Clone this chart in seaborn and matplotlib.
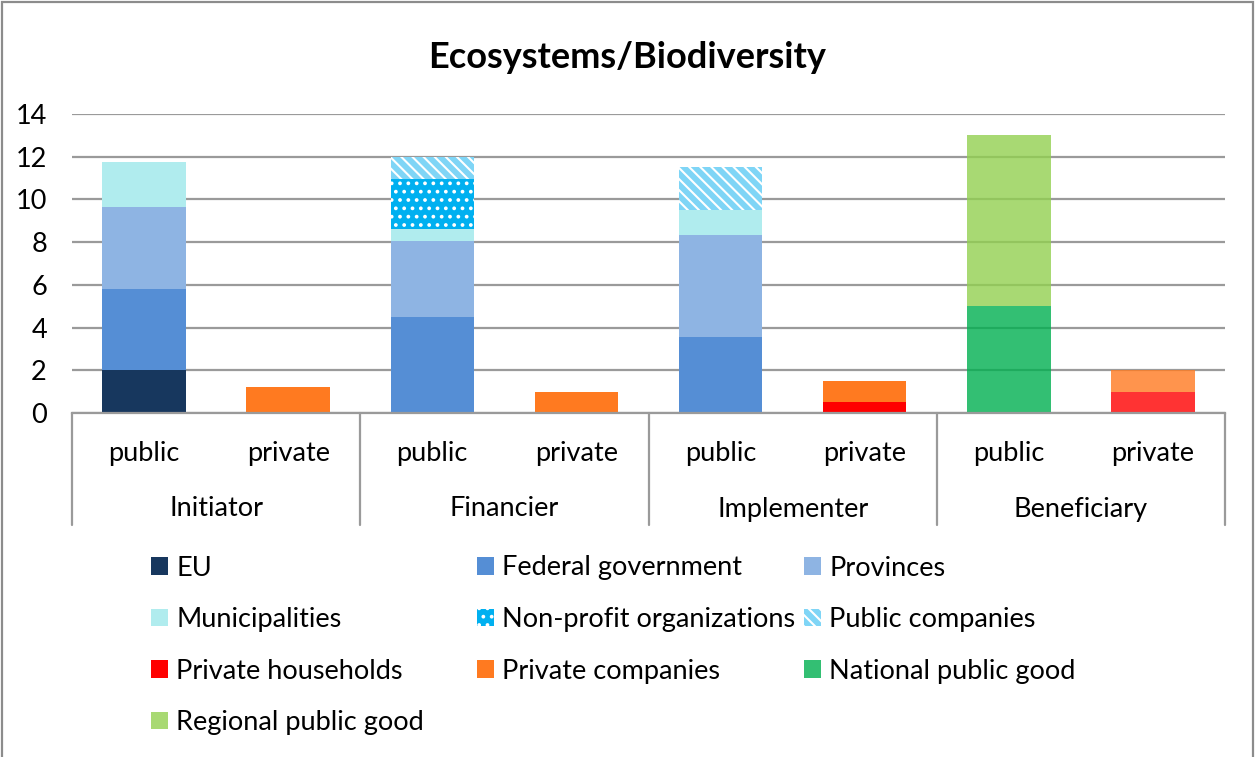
import matplotlib
matplotlib.use("Agg")
import matplotlib.pyplot as plt
import matplotlib.transforms as mtransforms
from matplotlib.patches import Patch, Rectangle
import pandas as pd
import seaborn as sns

# ---- data -------------------------------------------------------------
roles = ["Initiator", "Financier", "Implementer", "Beneficiary"]
sectors = ["public", "private"]

eu         = [2.0, 0, 0, 0, 0, 0, 0, 0]
federal    = [3.8, 0, 4.5, 0, 3.55, 0, 0, 0]
provinces  = [3.85, 0, 3.55, 0, 4.8, 0, 0, 0]
municipal  = [2.1, 0, 0.55, 0, 1.15, 0, 0, 0]
nonprofit  = [0, 0, 2.35, 0, 0, 0, 0, 0]
public_co  = [0, 0, 1.05, 0, 2.0, 0, 0, 0]
households = [0, 0, 0, 0, 0, 0.5, 0, 1.0]
private_co = [0, 1.22, 0, 1.0, 0, 1.0, 0, 1.0]
national   = [0, 0, 0, 0, 0, 0, 5.0, 0]
regional   = [0, 0, 0, 0, 0, 0, 8.0, 0]

series_names = ["EU", "Federal government", "Provinces", "Municipalities",
                "Non-profit organizations", "Public companies",
                "Private households", "Private companies",
                "National public good", "Regional public good"]
series_values = [eu, federal, provinces, municipal, nonprofit, public_co,
                 households, private_co, national, regional]

# ---- style ------------------------------------------------------------
colors = {
    "EU": "#17375e",
    "Federal government": "#558ed5",
    "Provinces": "#8eb4e3",
    "Municipalities": "#b0ecee",
    "Non-profit organizations": "#00b0f0",
    "Public companies": "#7fd5f6",
    "Private households": "#ff0000",
    "Private companies": "#ff7a20",
    "National public good": "#00b050",
    "Regional public good": "#92d050",
}
hatches = {"Non-profit organizations": "..", "Public companies": "\\\\\\"}

sns.set_theme(style="white")
plt.rcParams["font.family"] = ["Lato", "DejaVu Sans"]
plt.rcParams["text.color"] = "black"
plt.rcParams["hatch.linewidth"] = 1.5

FS = 19.5
W, H = 1255, 757
fig = plt.figure(figsize=(W / 100, H / 100), dpi=100)
x0, x1, y_top, y_bot = 72, 1225, 114, 413
ax = fig.add_axes([x0 / W, 1 - y_bot / H, (x1 - x0) / W, (y_bot - y_top) / H])

slots = [f"{r}-{s}" for r in roles for s in sectors]
faded_slots = {6, 7}  # beneficiary bars are drawn semi-transparent

bottom = [0.0] * len(slots)
for name, vals in zip(series_names, series_values):
    df = pd.DataFrame({"slot": slots, "value": vals})
    n_before = len(ax.patches)
    sns.barplot(data=df, x="slot", y="value", order=slots, color=colors[name],
                saturation=1, width=0.58, errorbar=None, bottom=bottom,
                linewidth=0, ax=ax)
    new = ax.patches[n_before:]
    for i, p in enumerate(new):
        if name in hatches:
            p.set_hatch(hatches[name])
            p.set_edgecolor("white")
            p.set_linewidth(0)
        if i in faded_slots:
            p.set_alpha(0.8)
    bottom = [b + v for b, v in zip(bottom, vals)]

# ---- axes -------------------------------------------------------------
ax.set_xlim(-0.5, len(slots) - 0.5)
ax.set_ylim(0, 14)
ax.set_yticks(range(0, 15, 2))
ax.yaxis.grid(True, color="#9a9a9a", linewidth=1.6)
ax.set_axisbelow(True)
for side in ["left", "right", "top"]:
    ax.spines[side].set_visible(False)
ax.spines["bottom"].set_color("#9a9a9a")
ax.spines["bottom"].set_linewidth(1.6)
ax.tick_params(axis="y", length=0, pad=18, labelsize=FS, labelcolor="black")
ax.set_xlabel("")
ax.set_ylabel("")

ax.set_xticks(range(len(slots)))
ax.set_xticklabels(sectors * len(roles))
ax.tick_params(axis="x", length=0, pad=20.5, labelsize=FS, labelcolor="black")

# two-level category axis: separators and group labels
trans = mtransforms.blended_transform_factory(ax.transData, ax.transAxes)
ax_h = y_bot - y_top
sep_depth = -112 / ax_h
for k in range(len(roles) + 1):
    xb = -0.5 + 2 * k
    ax.plot([xb, xb], [0, sep_depth], transform=trans, color="#9a9a9a",
            linewidth=1.6, clip_on=False)
for k, role in enumerate(roles):
    ax.text(2 * k + 0.5, -96 / ax_h, role, transform=trans, ha="center",
            va="center", fontsize=FS, color="black")

fig.suptitle("Ecosystems/Biodiversity", x=0.5, y=1 - 57 / H, va="center",
             fontsize=26, fontweight="bold", color="black")

# ---- legend (three columns placed side by side) -----------------------
columns = [
    ["EU", "Municipalities", "Private households", "Regional public good"],
    ["Federal government", "Non-profit organizations", "Private companies"],
    ["Provinces", "Public companies", "National public good"],
]
col_x = [151, 477, 804]
for cx, names in zip(col_x, columns):
    handles = []
    for nm in names:
        alpha = 0.8 if nm in ("National public good", "Regional public good") else 1
        handles.append(Patch(facecolor=colors[nm], hatch=hatches.get(nm),
                             edgecolor="white" if nm in hatches else colors[nm],
                             linewidth=0, alpha=alpha, label=nm))
    fig.legend(handles=handles, loc="upper left",
               bbox_to_anchor=(cx / W, 1 - 555.5 / H), frameon=False,
               fontsize=FS, handlelength=0.63, handleheight=0.63,
               handletextpad=0.3, labelspacing=0.98, borderpad=0,
               borderaxespad=0)

# outer border of the chart area
fig.patches.append(Rectangle((2 / W, -0.01), (1253 - 2) / W, 1.01 - 1.5 / H,
                             transform=fig.transFigure, fill=False,
                             edgecolor="#8c8c8c", linewidth=1.6))

fig.savefig("out.png", dpi=100, facecolor="white")
